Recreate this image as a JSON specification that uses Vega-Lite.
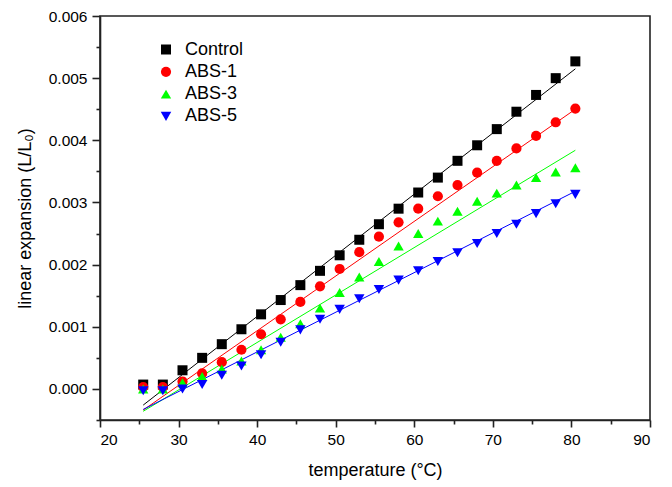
{
  "$schema": "https://vega.github.io/schema/vega-lite/v6.json",
  "autosize": "none",
  "width": 550,
  "height": 404,
  "padding": {"left": 100, "top": 16, "right": 22, "bottom": 67},
  "background": "white",
  "config": {
    "font": "Liberation Sans",
    "view": {"stroke": "#222222", "strokeWidth": 1.6},
    "axis": {"domainColor": "#222222", "domainWidth": 1.6, "tickColor": "#222222", "tickWidth": 1.6, "labelColor": "black", "titleColor": "black", "grid": false, "labelFont": "Liberation Sans", "titleFont": "Liberation Sans", "titleFontWeight": "normal"}
  },
  "datasets": {
    "points": [
      {"series": "Control", "t": 25.5, "v": 0.00007},
      {"series": "Control", "t": 28, "v": 0.00007},
      {"series": "Control", "t": 30.5, "v": 0.0003},
      {"series": "Control", "t": 33, "v": 0.0005},
      {"series": "Control", "t": 35.5, "v": 0.00072},
      {"series": "Control", "t": 38, "v": 0.00096},
      {"series": "Control", "t": 40.5, "v": 0.0012},
      {"series": "Control", "t": 43, "v": 0.00143},
      {"series": "Control", "t": 45.5, "v": 0.00167},
      {"series": "Control", "t": 48, "v": 0.0019},
      {"series": "Control", "t": 50.5, "v": 0.00215},
      {"series": "Control", "t": 53, "v": 0.0024},
      {"series": "Control", "t": 55.5, "v": 0.00265},
      {"series": "Control", "t": 58, "v": 0.0029},
      {"series": "Control", "t": 60.5, "v": 0.00316},
      {"series": "Control", "t": 63, "v": 0.0034},
      {"series": "Control", "t": 65.5, "v": 0.00367},
      {"series": "Control", "t": 68, "v": 0.00392},
      {"series": "Control", "t": 70.5, "v": 0.00418},
      {"series": "Control", "t": 73, "v": 0.00446},
      {"series": "Control", "t": 75.5, "v": 0.00473},
      {"series": "Control", "t": 78, "v": 0.005},
      {"series": "Control", "t": 80.5, "v": 0.00527},
      {"series": "ABS-1", "t": 25.5, "v": 0.00003},
      {"series": "ABS-1", "t": 28, "v": 0.00003},
      {"series": "ABS-1", "t": 30.5, "v": 0.00012},
      {"series": "ABS-1", "t": 33, "v": 0.00025},
      {"series": "ABS-1", "t": 35.5, "v": 0.00043},
      {"series": "ABS-1", "t": 38, "v": 0.00063},
      {"series": "ABS-1", "t": 40.5, "v": 0.00088},
      {"series": "ABS-1", "t": 43, "v": 0.00112},
      {"series": "ABS-1", "t": 45.5, "v": 0.0014},
      {"series": "ABS-1", "t": 48, "v": 0.00165},
      {"series": "ABS-1", "t": 50.5, "v": 0.00193},
      {"series": "ABS-1", "t": 53, "v": 0.0022},
      {"series": "ABS-1", "t": 55.5, "v": 0.00245},
      {"series": "ABS-1", "t": 58, "v": 0.00268},
      {"series": "ABS-1", "t": 60.5, "v": 0.0029},
      {"series": "ABS-1", "t": 63, "v": 0.0031},
      {"series": "ABS-1", "t": 65.5, "v": 0.00328},
      {"series": "ABS-1", "t": 68, "v": 0.00348},
      {"series": "ABS-1", "t": 70.5, "v": 0.00367},
      {"series": "ABS-1", "t": 73, "v": 0.00387},
      {"series": "ABS-1", "t": 75.5, "v": 0.00407},
      {"series": "ABS-1", "t": 78, "v": 0.00429},
      {"series": "ABS-1", "t": 80.5, "v": 0.00451},
      {"series": "ABS-3", "t": 25.5, "v": 0.0},
      {"series": "ABS-3", "t": 28, "v": 0.0},
      {"series": "ABS-3", "t": 30.5, "v": 0.0001},
      {"series": "ABS-3", "t": 33, "v": 0.0002},
      {"series": "ABS-3", "t": 35.5, "v": 0.00032},
      {"series": "ABS-3", "t": 38, "v": 0.00045},
      {"series": "ABS-3", "t": 40.5, "v": 0.00063},
      {"series": "ABS-3", "t": 43, "v": 0.00083},
      {"series": "ABS-3", "t": 45.5, "v": 0.00105},
      {"series": "ABS-3", "t": 48, "v": 0.0013},
      {"series": "ABS-3", "t": 50.5, "v": 0.00155},
      {"series": "ABS-3", "t": 53, "v": 0.0018},
      {"series": "ABS-3", "t": 55.5, "v": 0.00205},
      {"series": "ABS-3", "t": 58, "v": 0.0023},
      {"series": "ABS-3", "t": 60.5, "v": 0.0025},
      {"series": "ABS-3", "t": 63, "v": 0.0027},
      {"series": "ABS-3", "t": 65.5, "v": 0.00286},
      {"series": "ABS-3", "t": 68, "v": 0.00302},
      {"series": "ABS-3", "t": 70.5, "v": 0.00315},
      {"series": "ABS-3", "t": 73, "v": 0.00328},
      {"series": "ABS-3", "t": 75.5, "v": 0.0034},
      {"series": "ABS-3", "t": 78, "v": 0.00349},
      {"series": "ABS-3", "t": 80.5, "v": 0.00356},
      {"series": "ABS-5", "t": 25.5, "v": -0.00003},
      {"series": "ABS-5", "t": 28, "v": -0.00003},
      {"series": "ABS-5", "t": 30.5, "v": 0.0},
      {"series": "ABS-5", "t": 33, "v": 0.00007},
      {"series": "ABS-5", "t": 35.5, "v": 0.00022},
      {"series": "ABS-5", "t": 38, "v": 0.00037},
      {"series": "ABS-5", "t": 40.5, "v": 0.00055},
      {"series": "ABS-5", "t": 43, "v": 0.00075},
      {"series": "ABS-5", "t": 45.5, "v": 0.00095},
      {"series": "ABS-5", "t": 48, "v": 0.00112},
      {"series": "ABS-5", "t": 50.5, "v": 0.00128},
      {"series": "ABS-5", "t": 53, "v": 0.00145},
      {"series": "ABS-5", "t": 55.5, "v": 0.0016},
      {"series": "ABS-5", "t": 58, "v": 0.00175},
      {"series": "ABS-5", "t": 60.5, "v": 0.0019},
      {"series": "ABS-5", "t": 63, "v": 0.00205},
      {"series": "ABS-5", "t": 65.5, "v": 0.00219},
      {"series": "ABS-5", "t": 68, "v": 0.00234},
      {"series": "ABS-5", "t": 70.5, "v": 0.0025},
      {"series": "ABS-5", "t": 73, "v": 0.00265},
      {"series": "ABS-5", "t": 75.5, "v": 0.00282},
      {"series": "ABS-5", "t": 78, "v": 0.00298},
      {"series": "ABS-5", "t": 80.5, "v": 0.00313}
    ],
    "fits": [
      {"series": "Control", "t": 25.5, "v": -0.00026},
      {"series": "Control", "t": 80.5, "v": 0.00515},
      {"series": "ABS-1", "t": 25.5, "v": -0.00034},
      {"series": "ABS-1", "t": 80.5, "v": 0.0045},
      {"series": "ABS-3", "t": 25.5, "v": -0.00036},
      {"series": "ABS-3", "t": 80.5, "v": 0.00384},
      {"series": "ABS-5", "t": 25.5, "v": -0.00033},
      {"series": "ABS-5", "t": 80.5, "v": 0.00318}
    ]
  },
  "layer": [
    {
      "data": {"name": "fits"},
      "mark": {"type": "line", "strokeWidth": 1, "clip": true},
      "encoding": {
        "x": {"field": "t", "type": "quantitative", "scale": {"domain": [20, 90], "nice": false, "zero": false},
          "axis": {"orient": "bottom", "values": [25, 35, 45, 55, 65, 75, 85], "labels": false, "domain": false, "tickSize": 4, "title": null}},
        "y": {"field": "v", "type": "quantitative", "scale": {"domain": [-0.0005, 0.006], "nice": false, "zero": false},
          "axis": {"orient": "left", "values": [-0.0005, 0.0005, 0.0015, 0.0025, 0.0035, 0.0045, 0.0055], "labels": false, "domain": false, "tickSize": 4, "title": null}},
        "detail": {"field": "series"},
        "color": {"field": "series", "type": "nominal", "scale": {"domain": ["Control", "ABS-1", "ABS-3", "ABS-5"], "range": ["#000000", "#ff0000", "#00ff00", "#0000ff"]}}
      }
    },
    {
      "data": {"name": "points"},
      "mark": {"type": "point", "filled": true, "opacity": 1, "strokeWidth": 0},
      "encoding": {
        "x": {"field": "t", "type": "quantitative", "scale": {"domain": [20, 90], "nice": false, "zero": false},
          "axis": {"orient": "bottom", "values": [20, 30, 40, 50, 60, 70, 80, 90], "tickSize": 7, "labelFontSize": 15.5, "labelPadding": 5, "title": "temperature (°C)", "titleFontSize": 18, "titlePadding": 14}},
        "y": {"field": "v", "type": "quantitative", "scale": {"domain": [-0.0005, 0.006], "nice": false, "zero": false},
          "axis": {"orient": "left", "values": [0, 0.001, 0.002, 0.003, 0.004, 0.005, 0.006], "format": ".3f", "tickSize": 8, "labelFontSize": 15.5, "labelPadding": 5, "title": "linear expansion (L/L₀)", "titleFontSize": 18, "titlePadding": 14}},
        "color": {"field": "series", "type": "nominal", "scale": {"domain": ["Control", "ABS-1", "ABS-3", "ABS-5"], "range": ["#000000", "#ff0000", "#00ff00", "#0000ff"]},
          "legend": {"title": null, "orient": "none", "legendX": 57, "legendY": 24.5, "padding": 0, "labelFontSize": 18, "labelOffset": 10, "rowPadding": 4.3, "symbolSize": 100, "symbolStrokeWidth": 0, "labelFont": "Liberation Sans", "labelColor": "black"}},
        "shape": {"field": "series", "type": "nominal", "scale": {"domain": ["Control", "ABS-1", "ABS-3", "ABS-5"], "range": ["square", "circle", "triangle-up", "triangle-down"]}},
        "size": {"field": "series", "type": "nominal", "scale": {"domain": ["Control", "ABS-1", "ABS-3", "ABS-5"], "range": [100, 110, 150, 150]}}
      }
    }
  ],
  "resolve": {"axis": {"x": "independent", "y": "independent"}}
}
